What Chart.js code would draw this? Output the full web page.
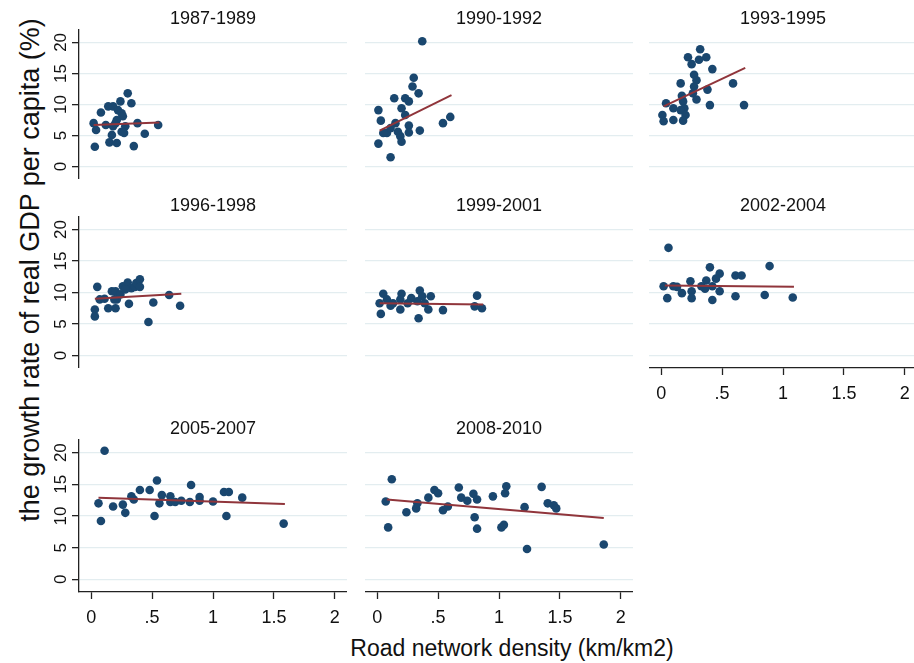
<!DOCTYPE html>
<html>
<head>
<meta charset="utf-8">
<script src="https://cdn.jsdelivr.net/npm/chart.js@4/dist/chart.umd.min.js"></script>
<style>
  html, body { margin: 0; padding: 0; overflow: hidden; background: #fff; }
  body { width: 914px; height: 663px; position: relative; font-family: 'Liberation Sans', Arial, sans-serif; color: #111; }
  canvas { position: absolute; }
  #ytitle { position: absolute; left: 30px; top: 270px; transform: translate(-50%, -50%) rotate(-90deg); white-space: nowrap; font-size: 27px; line-height: 1; }
  #xtitle { position: absolute; left: 512px; top: 648px; transform: translate(-50%, -50%); white-space: nowrap; font-size: 23px; line-height: 1; }
</style>
</head>
<body>
<div id="ytitle">the growth rate of real GDP per capita (%)</div>
<div id="xtitle">Road network density (km/km2)</div>
<script>
// Ticks
const xTicks = [0, 0.5, 1, 1.5, 2];
const xTickLabels = ['0', '.5', '1', '1.5', '2'];
const yTicks = [0, 5, 10, 15, 20];
const yTickLabels = ['0', '5', '10', '15', '20'];

const periods = ['1987-1989', '1990-1992', '1993-1995', '1996-1998', '1999-2001', '2002-2004', '2005-2007', '2008-2010'];

// Road density (x) and growth rate (y)
const dens8789 = [0.03,0.02,0.04,0.08,0.12,0.14,0.18,0.15,0.18,0.20,0.21,0.22,0.24,0.25,0.26,0.25,0.28,0.27,0.30,0.33,0.35,0.38,0.44,0.55,0.17,0.21];
const grow8789 = [3.2,7.0,5.9,8.7,6.7,9.7,9.7,3.9,6.5,7.0,3.8,9.1,10.5,8.6,8.1,5.6,6.5,5.4,11.8,10.2,3.3,7.0,5.3,6.7,5.1,7.5];
const dens9092 = [0.37,0.30,0.29,0.34,0.14,0.23,0.26,0.20,0.01,0.23,0.03,0.15,0.26,0.60,0.54,0.08,0.17,0.26,0.35,0.19,0.20,0.01,0.11,0.11,0.05];
const grow9092 = [20.2,14.3,12.9,11.8,11.0,11.0,10.5,9.4,9.1,8.3,7.4,7.0,6.6,8.0,7.0,5.4,5.6,5.5,5.8,4.9,4.0,3.7,1.5,6.2,5.4];
const dens9395 = [0.32,0.37,0.31,0.22,0.25,0.42,0.27,0.29,0.16,0.59,0.27,0.38,0.17,0.26,0.29,0.04,0.40,0.68,0.18,0.10,0.19,0.16,0.01,0.20,0.10,0.02,0.18];
const grow9395 = [18.9,17.6,17.2,17.6,16.5,15.7,14.8,13.9,13.4,13.4,12.9,12.4,11.4,11.8,10.8,10.2,9.9,9.9,10.5,9.4,9.4,9.1,8.3,8.3,7.5,7.3,7.4];
const dens9698 = [0.05,0.03,0.03,0.07,0.11,0.17,0.20,0.14,0.20,0.21,0.24,0.26,0.30,0.33,0.31,0.36,0.37,0.40,0.40,0.47,0.51,0.64,0.73,0.28,0.19];
const grow9698 = [10.9,7.3,6.2,8.9,9.0,10.2,10.2,7.5,7.5,8.9,9.7,11.0,11.6,10.7,8.2,10.9,11.5,12.1,10.9,5.3,8.4,9.6,7.9,10.5,8.9];
const dens9901 = [0.05,0.02,0.03,0.08,0.13,0.11,0.20,0.19,0.19,0.28,0.35,0.37,0.33,0.39,0.42,0.34,0.44,0.54,0.82,0.80,0.86,0.25];
const grow9901 = [9.8,8.3,6.6,8.9,8.3,7.9,9.8,8.9,7.3,9.1,10.3,9.4,8.6,8.3,7.3,5.9,9.4,7.2,9.5,7.8,7.5,8.3];
const dens0204 = [0.06,0.40,0.89,0.48,0.61,0.66,0.24,0.37,0.45,0.02,0.13,0.33,0.42,0.17,0.25,0.48,0.05,0.25,0.42,0.61,0.85,1.08,0.36,0.10];
const grow0204 = [17.1,14.0,14.2,13.0,12.7,12.7,11.8,11.9,12.2,11.0,10.9,11.0,11.0,9.9,10.2,10.2,9.1,9.1,8.8,9.4,9.6,9.2,10.6,11.0];
const dens0507 = [0.11,0.06,0.08,0.18,0.26,0.28,0.33,0.35,0.40,0.48,0.54,0.52,0.56,0.58,0.65,0.65,0.69,0.74,0.81,0.82,0.89,0.89,1.00,1.09,1.13,1.11,1.24,1.58];
const grow0507 = [20.3,12.0,9.2,11.5,11.8,10.5,13.1,12.6,14.1,14.1,15.6,10.0,12.0,13.3,13.1,12.2,12.2,12.4,12.2,14.9,13.0,12.4,12.3,13.8,13.8,10.0,12.9,8.8];
const dens0810 = [0.12,0.07,0.09,0.24,0.32,0.33,0.42,0.47,0.50,0.54,0.58,0.67,0.69,0.74,0.79,0.82,0.80,0.82,0.95,1.02,1.04,1.05,1.06,1.21,1.23,1.35,1.40,1.45,1.47,1.86];
const grow0810 = [15.8,12.3,8.2,10.6,11.2,12.0,12.9,14.1,13.6,10.9,11.5,14.5,12.9,12.4,13.5,12.6,9.8,8.0,13.1,8.2,8.6,13.6,14.7,11.4,4.8,14.6,12.0,11.7,11.2,5.5];

// Fitted line ends (x start, x end) and (y start, y end)
const fitDens = [[0.02,0.56],[0.02,0.61],[0.02,0.69],[0.03,0.74],[0.02,0.87],[0.03,1.09],[0.06,1.59],[0.08,1.86]];
const fitGrow = [[6.7,7.1],[5.8,11.5],[9.7,15.9],[9.0,9.8],[8.3,8.1],[11.1,10.9],[12.9,11.9],[12.6,9.7]];

const densAll = [dens8789, dens9092, dens9395, dens9698, dens9901, dens0204, dens0507, dens0810];
const growAll = [grow8789, grow9092, grow9395, grow9698, grow9901, grow0204, grow0507, grow0810];

// Layout (px)
const colLeft = [79, 365, 649];
const plotW = 268;
const rowTop = [30, 217, 440];
const rowH = [149, 151, 152];
const titleH = 30, yAxisW = 60, xAxisH = 40;

const navy = '#1a476f';
const maroon = '#90353b';
const gridCol = '#e3edf0';
const axisCol = '#222';
const FONT = "'Liberation Sans', Arial, sans-serif";

// no automatic padding from tick labels: plot areas are fixed
const noPad = s => { s.paddingTop = 0; s.paddingBottom = 0; s.paddingLeft = 0; s.paddingRight = 0; };

periods.forEach((period, i) => {
    const col = i % 3, row = Math.floor(i / 3);
    const showY = col === 0;
    const showX = i >= 5;
    const yw = showY ? yAxisW : 0;
    const xh = showX ? xAxisH : 0;

    const cv = document.createElement('canvas');
    cv.width = plotW + yw;
    cv.height = rowH[row] + titleH + xh;
    cv.style.left = (colLeft[col] - yw) + 'px';
    cv.style.top = (rowTop[row] - titleH) + 'px';
    document.body.appendChild(cv);

    const pts = densAll[i].map((x, k) => ({ x: x, y: growAll[i][k] }));
    const fit = fitDens[i].map((x, k) => ({ x: x, y: fitGrow[i][k] }));

    new Chart(cv, {
        type: 'scatter',
        data: {
            datasets: [
                { type: 'line', data: fit, borderColor: maroon, borderWidth: 2, pointRadius: 0, fill: false },
                { data: pts, backgroundColor: navy, borderColor: navy, borderWidth: 0, pointRadius: 4.3 }
            ]
        },
        options: {
            responsive: false,
            animation: false,
            events: [],
            layout: { padding: 0, autoPadding: false },
            plugins: {
                legend: { display: false },
                tooltip: { enabled: false },
                title: {
                    display: true, text: period, fullSize: false, color: '#111',
                    font: { family: FONT, size: 18, weight: 'normal', lineHeight: 1 },
                    padding: { top: 10, bottom: 2 }
                }
            },
            scales: {
                x: {
                    type: 'linear', min: -0.1, max: 2.1, display: showX,
                    afterBuildTicks: s => { s.ticks = xTicks.map(v => ({ value: v })); },
                    afterFit: s => { s.height = xh; noPad(s); },
                    grid: { drawOnChartArea: false, drawTicks: true, tickLength: 7, tickColor: axisCol, tickWidth: 1.3 },
                    border: { display: true, color: axisCol, width: 1.3 },
                    ticks: { autoSkip: false, maxRotation: 0, padding: 8, color: '#111', font: { family: FONT, size: 18 },
                        callback: (v, k) => xTickLabels[k] }
                },
                y: {
                    type: 'linear', min: -2, max: 22,
                    afterBuildTicks: s => { s.ticks = yTicks.map(v => ({ value: v })); },
                    afterFit: s => { s.width = yw; noPad(s); },
                    grid: { color: gridCol, lineWidth: 1.3, drawTicks: showY, tickLength: 7, tickColor: axisCol, tickWidth: 1.3 },
                    border: { display: showY, color: axisCol, width: 1.3 },
                    ticks: { display: showY, autoSkip: false, minRotation: 90, maxRotation: 90, crossAlign: 'center', padding: 1,
                        color: '#111', font: { family: FONT, size: 17 },
                        callback: (v, k) => yTickLabels[k] }
                }
            }
        }
    });
});
</script>
</body>
</html>
